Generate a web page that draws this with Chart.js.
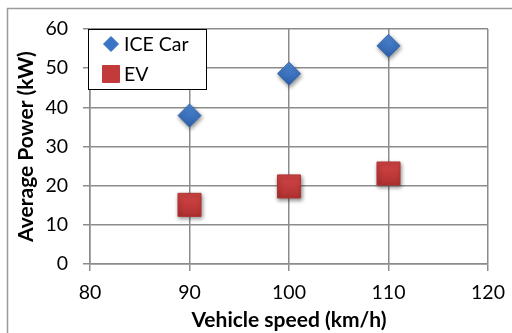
<!DOCTYPE html>
<html>
<head>
<meta charset="utf-8">
<script src="https://cdn.jsdelivr.net/npm/chart.js@4/dist/chart.umd.min.js"></script>
<style>
  html, body { margin: 0; padding: 0; background: #fff; }
  #wrap { width: 512px; height: 333px; position: relative; }
</style>
</head>
<body>
<div id="wrap"><canvas id="c" width="512" height="333"></canvas></div>
<script>
// Vehicle speed (km/h)
const speeds = [90, 100, 110];
// Average power (kW) per vehicle type
const iceCar = [37.9, 48.6, 55.7];
const ev = [15.1, 19.8, 23.1];
// Axis ticks
const xTicks = [80, 90, 100, 110, 120];
const yTicks = [0, 10, 20, 30, 40, 50, 60];

const seriesNames = ['ICE Car', 'EV'];
const FONT = 'Lato, "Open Sans", sans-serif';
const GRID = '#8c8c8c';
const TICK_SIZE = 19.5;
const TITLE_SIZE = 21;

function vGradient(ctx, top, bottom) {
  if (ctx.type !== 'data' || !ctx.parsed) return top;
  const chart = ctx.chart;
  const scale = chart.scales.y;
  if (!scale) return top;
  const y = scale.getPixelForValue(ctx.parsed.y);
  const r = ctx.dataset.pointRadius || 12;
  if (!isFinite(y)) return top;
  const g = chart.ctx.createLinearGradient(0, y - r, 0, y + r);
  g.addColorStop(0, top);
  g.addColorStop(1, bottom);
  return g;
}

// Frame around the whole chart object
const framePlugin = {
  id: 'frame',
  beforeDraw(chart) {
    const c = chart.ctx;
    c.save();
    c.strokeStyle = '#9a9a9a';
    c.lineWidth = 1.5;
    c.beginPath();
    c.moveTo(7.5, 340);
    c.lineTo(7.5, 8.5);
    c.lineTo(520, 8.5);
    c.stroke();
    c.restore();
  }
};

// Soft drop shadow under the markers
const shadowPlugin = {
  id: 'markerShadow',
  beforeDatasetDraw(chart) {
    const c = chart.ctx;
    c.save();
    c.shadowColor = 'rgba(0,0,0,0.45)';
    c.shadowBlur = 4;
    c.shadowOffsetX = 1;
    c.shadowOffsetY = 2;
  },
  afterDatasetDraw(chart) {
    chart.ctx.restore();
  }
};

// Boxed legend inside the plot area
const legendBoxPlugin = {
  id: 'legendBox',
  afterDatasetsDraw(chart) {
    const c = chart.ctx;
    const x0 = 88.5, y0 = 29.5, w = 118, h = 60;
    c.save();
    c.fillStyle = '#fff';
    c.fillRect(x0, y0, w, h);
    c.strokeStyle = '#000';
    c.lineWidth = 1;
    c.strokeRect(x0, y0, w, h);

    const rows = [
      { y: 44, style: 'rectRot', radius: 7.5, fill: '#3a74c4', stroke: '#3a74c4' },
      { y: 74, style: 'rect', radius: 12, fill: '#c23a3a', stroke: '#c23a3a' }
    ];
    rows.forEach((r, i) => {
      c.fillStyle = r.fill;
      c.strokeStyle = r.stroke;
      c.lineWidth = 1;
      Chart.helpers.drawPoint(c, { pointStyle: r.style, radius: r.radius, borderWidth: 1 }, 111, r.y);
      c.fillStyle = '#000';
      c.font = TICK_SIZE + 'px ' + FONT;
      c.textAlign = 'left';
      c.textBaseline = 'middle';
      c.fillText(seriesNames[i], 124, r.y + 1);
    });
    c.restore();
  }
};

const data = {
  datasets: [
    {
      label: seriesNames[0],
      data: speeds.map((s, i) => ({ x: s, y: iceCar[i] })),
      pointStyle: 'rectRot',
      pointRadius: 11.5,
      borderWidth: 1,
      borderColor: '#3568b0',
      backgroundColor: ctx => vGradient(ctx, '#4f8ad6', '#2d60aa'),
      showLine: false
    },
    {
      label: seriesNames[1],
      data: speeds.map((s, i) => ({ x: s, y: ev[i] })),
      pointStyle: 'rect',
      pointRadius: 16.3,
      borderWidth: 1,
      borderColor: '#b03434',
      backgroundColor: ctx => vGradient(ctx, '#dc4a4a', '#a82c2c'),
      showLine: false
    }
  ]
};

new Chart(document.getElementById('c'), {
  type: 'scatter',
  data,
  plugins: [framePlugin, shadowPlugin, legendBoxPlugin],
  options: {
    responsive: false,
    animation: false,
    devicePixelRatio: 1,
    layout: { padding: { left: 0, top: 29, right: 24, bottom: 0 } },
    plugins: {
      legend: { display: false },
      tooltip: { enabled: false }
    },
    scales: {
      x: {
        type: 'linear',
        min: xTicks[0],
        max: xTicks[xTicks.length - 1],
        afterBuildTicks: s => { s.ticks = xTicks.map(v => ({ value: v })); },
        afterFit: s => { s.height = 333 - 264; s.paddingLeft = 0; s.paddingRight = 0; },
        grid: { color: GRID, lineWidth: 1.5, tickLength: 7, tickColor: GRID },
        border: { color: GRID, width: 1.5 },
        ticks: { color: '#000', font: { family: FONT, size: TICK_SIZE }, padding: 10 },
        title: {
          display: true,
          text: 'Vehicle speed (km/h)',
          color: '#000',
          font: { family: FONT, size: TITLE_SIZE, weight: 'bold' },
          padding: { top: 0, bottom: 0.5 }
        }
      },
      y: {
        type: 'linear',
        min: yTicks[0],
        max: yTicks[yTicks.length - 1],
        afterBuildTicks: s => { s.ticks = yTicks.map(v => ({ value: v })); },
        afterFit: s => { s.width = 90; s.paddingTop = 0; s.paddingBottom = 0; },
        grid: { color: GRID, lineWidth: 1.5, tickLength: 7, tickColor: GRID },
        border: { color: GRID, width: 1.5 },
        ticks: { color: '#000', font: { family: FONT, size: TICK_SIZE }, padding: 15 },
        title: {
          display: true,
          text: 'Average Power (kW)',
          color: '#000',
          font: { family: FONT, size: TITLE_SIZE, weight: 'bold' },
          padding: { top: 13.4, bottom: 0 }
        }
      }
    }
  }
});
</script>
</body>
</html>
